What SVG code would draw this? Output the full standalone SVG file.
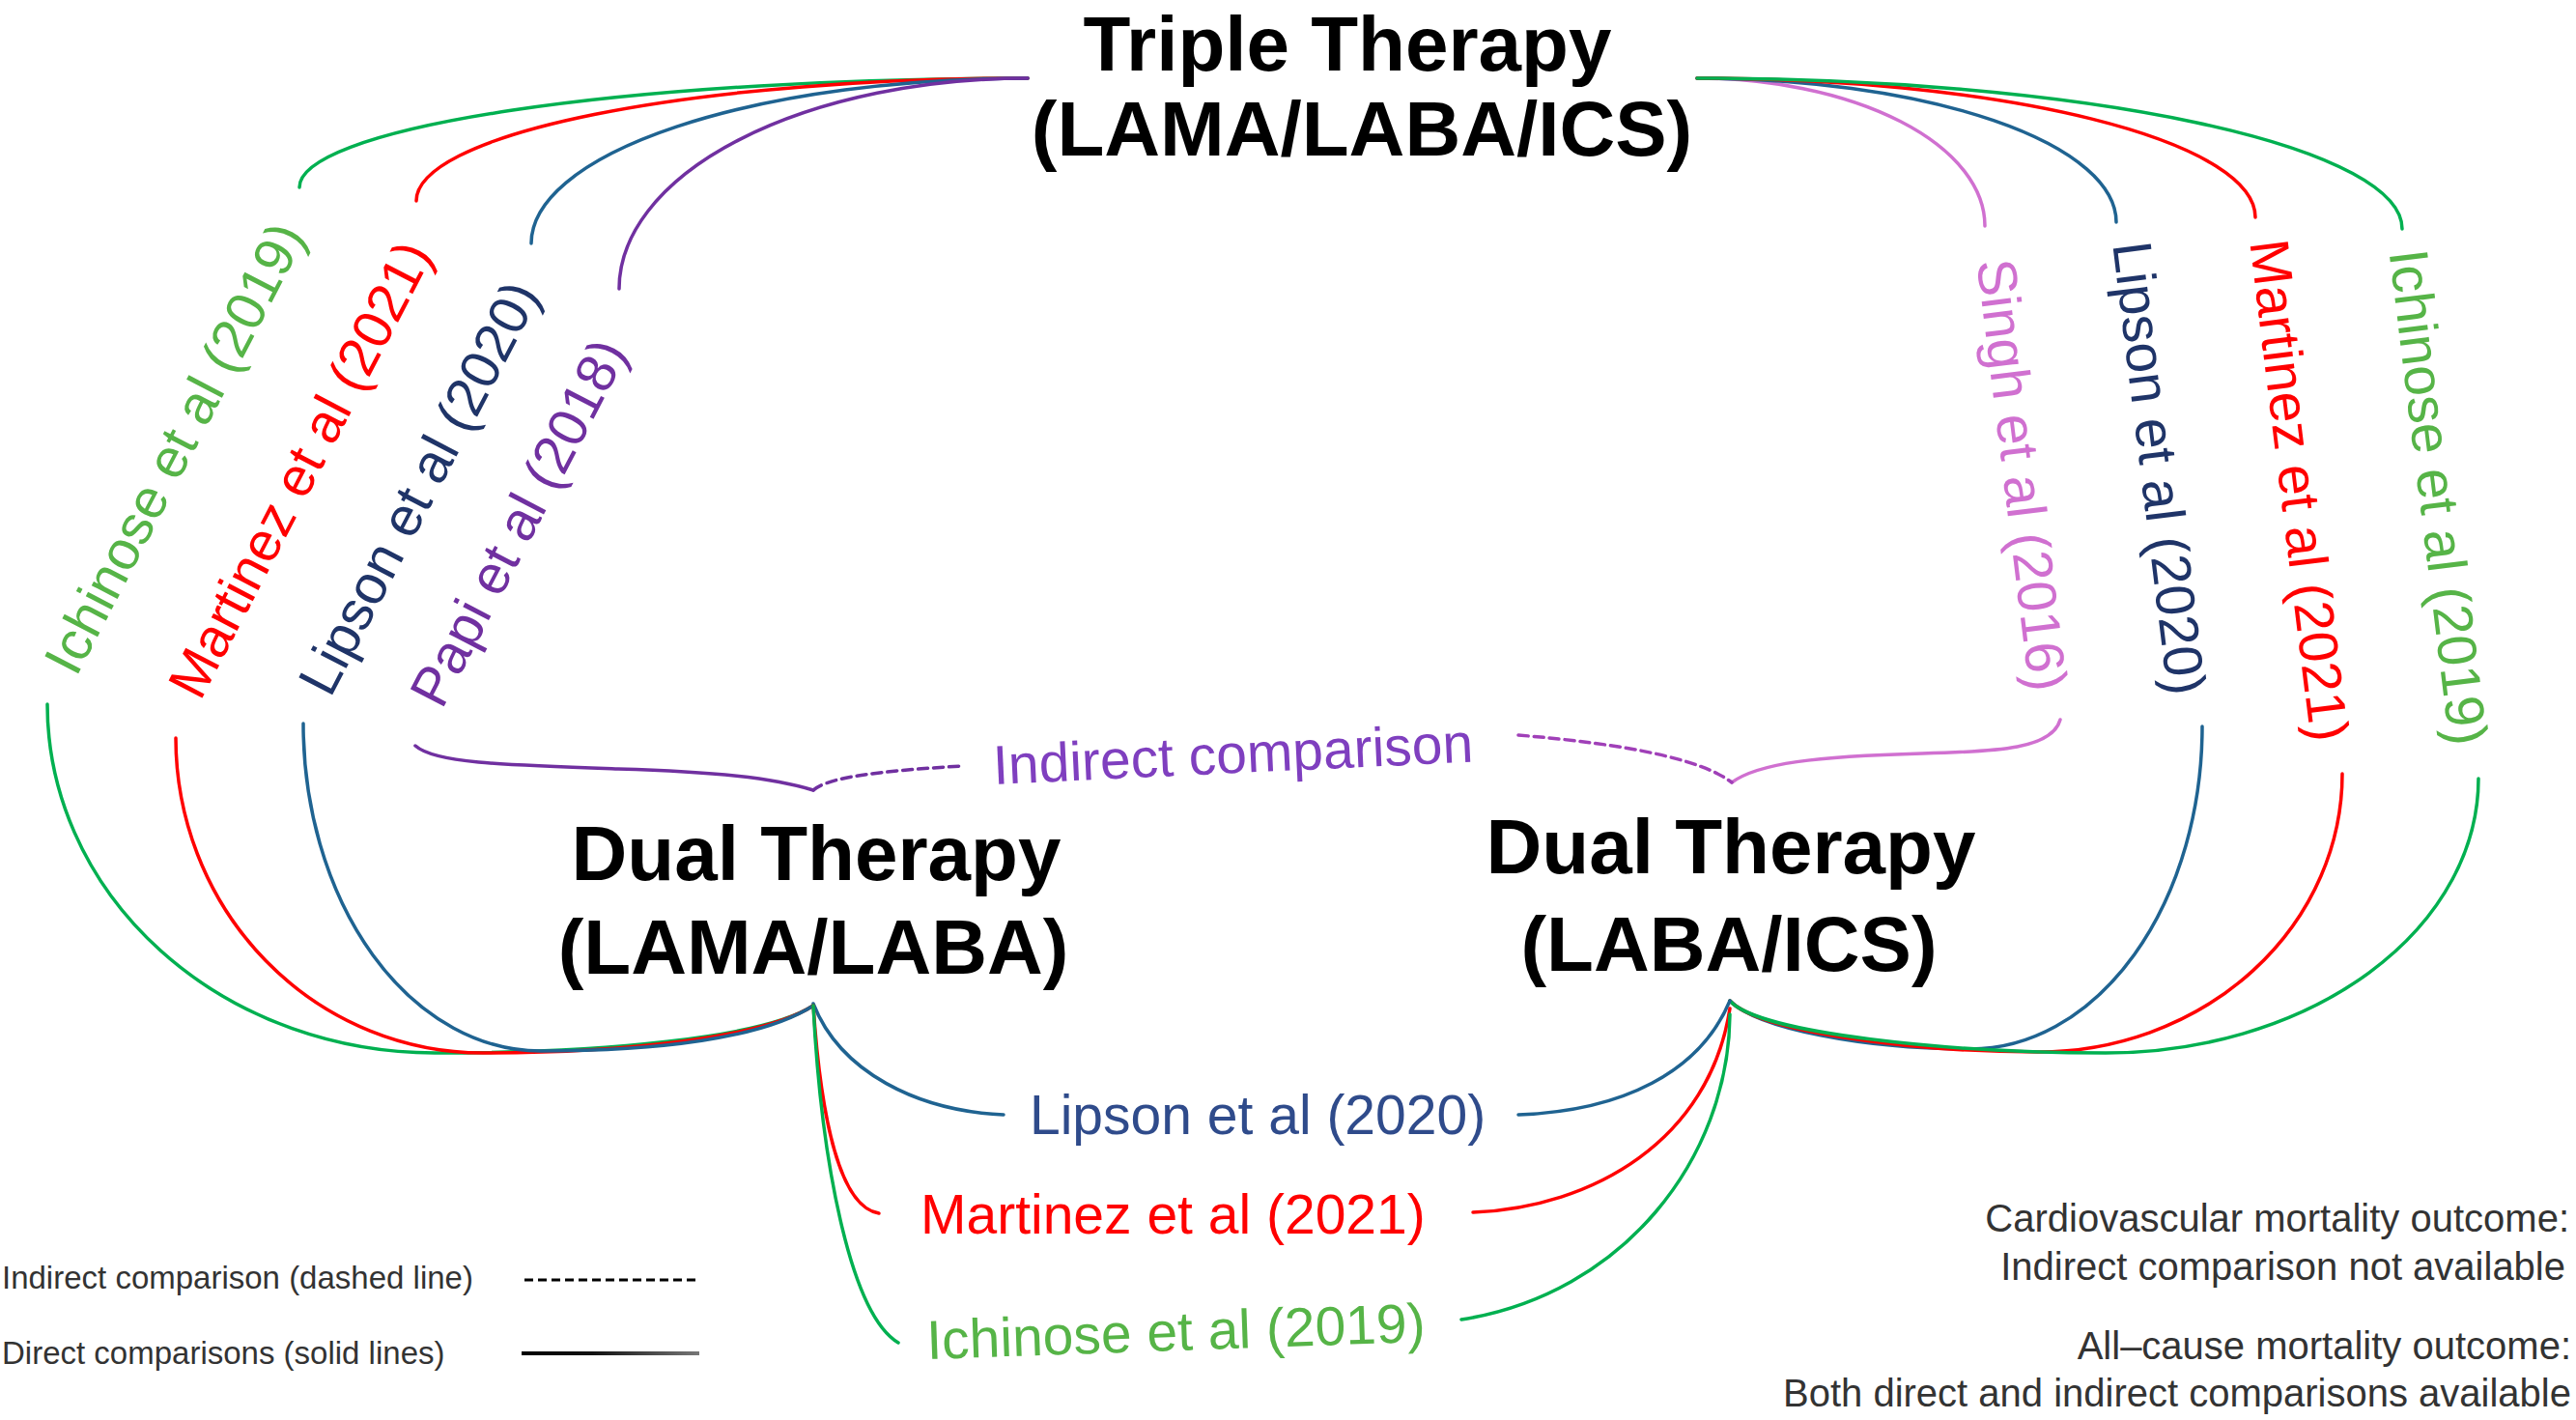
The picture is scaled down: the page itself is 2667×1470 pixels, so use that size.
<svg xmlns="http://www.w3.org/2000/svg" width="2667" height="1470" viewBox="0 0 2667 1470">
<style>
.node{font-family:"Liberation Sans",Arial,sans-serif;font-weight:bold;font-size:80px;fill:#000;text-anchor:middle}
.lab{font-family:"Liberation Sans",Arial,sans-serif;font-size:57px}
.c{fill:none;stroke-width:3.5;stroke-linecap:round}
.g{stroke:#00B050}.r{stroke:#FF0000}.b{stroke:#1F6391}.p{stroke:#7030A0}.k{stroke:#D070D0}
.note{font-family:"Liberation Sans",Arial,sans-serif;fill:#333;}
</style>
<defs>
<linearGradient id="lg" x1="0" x2="1" y1="0" y2="0">
<stop offset="0" stop-color="#000"/><stop offset="0.4" stop-color="#111"/><stop offset="1" stop-color="#777"/>
</linearGradient>
</defs>
<rect width="2667" height="1470" fill="#fff"/>

<g id="triple">
<text class="node" x="1395" y="73">Triple Therapy</text>
<text class="node" x="1410" y="161">(LAMA/LABA/ICS)</text>
</g>
<g id="dual-lama-laba">
<text class="node" x="845" y="911">Dual Therapy</text>
<text class="node" x="842" y="1008">(LAMA/LABA)</text>
</g>
<g id="dual-laba-ics">
<text class="node" x="1792" y="904">Dual Therapy</text>
<text class="node" x="1790" y="1005">(LABA/ICS)</text>
</g>

<g id="connectors">
<!-- top left -->
<path class="c g" d="M1064,81 A754,113 0 0 0 310,194"/>
<path class="c r" d="M1064,81 A633,127 0 0 0 431,208"/>
<path class="c b" d="M1064,81 A514,171 0 0 0 550,252"/>
<path class="c p" d="M1064,81 A423,218 0 0 0 641,299"/>
<!-- top right -->
<path class="c k" d="M1757,81 A298,153 0 0 1 2055,234"/>
<path class="c b" d="M1757,81 A434,149 0 0 1 2191,230"/>
<path class="c r" d="M1757,81 A578,144 0 0 1 2335,225"/>
<path class="c g" d="M1757,81 A730,156 0 0 1 2487,237"/>
<!-- lower left -->
<path class="c g" d="M49,729 A401,361 0 0 0 450,1090 C620,1090 790,1075 842,1041"/>
<path class="c r" d="M182,764 A318,326 0 0 0 500,1090 C640,1090 790,1075 842,1041"/>
<path class="c b" d="M314,749 A246,339 0 0 0 560,1088 C680,1088 790,1075 842,1041"/>
<!-- lower right -->
<path class="c b" d="M2280,752 A240,334 0 0 1 2040,1086 C1930,1086 1820,1065 1791,1036"/>
<path class="c r" d="M2425,801 A315,288 0 0 1 2110,1089 C1980,1089 1820,1068 1791,1036"/>
<path class="c g" d="M2566,806 A386,284 0 0 1 2180,1090 C2020,1090 1820,1070 1791,1036"/>
<!-- indirect comparison braces -->
<path class="c p" d="M430,772 C450,790 520,792 640,796 C740,799 800,805 842,818"/>
<path class="c p" stroke-dasharray="10 6" d="M842,818 C855,808 880,800 995,793"/>
<path class="c k" d="M2133,745 C2125,775 2070,778 1990,780 C1880,783 1820,790 1793,810"/>
<path class="c" stroke="#A040B8" stroke-dasharray="10 6" d="M1572,761 C1680,770 1760,785 1793,810"/>
<!-- bottom direct comparisons -->
<path class="c b" d="M842,1039 C870,1110 950,1150 1039,1154"/>
<path class="c b" d="M1572,1154 C1680,1150 1760,1110 1791,1036"/>
<path class="c r" d="M842,1041 C850,1160 870,1250 910,1256"/>
<path class="c r" d="M1525,1255 C1650,1250 1770,1180 1791,1044"/>
<path class="c g" d="M842,1041 C850,1200 880,1360 930,1390"/>
<path class="c g" d="M1513,1366 C1680,1340 1790,1200 1791,1050"/>
</g>

<g id="labels">
<text class="lab" fill="#56B447" text-anchor="middle" transform="translate(198,473) rotate(-62.5)">Ichinose et al (2019)</text>
<text class="lab" fill="#FF0000" text-anchor="middle" transform="translate(328,495) rotate(-62.5)">Martinez et al (2021)</text>
<text class="lab" fill="#1F3468" text-anchor="middle" transform="translate(451,514) rotate(-62.5)">Lipson et al (2020)</text>
<text class="lab" fill="#7030A0" text-anchor="middle" transform="translate(554,550) rotate(-62.5)">Papi et al (2018)</text>
<text class="lab" fill="#D070D0" text-anchor="middle" transform="translate(2074,494) rotate(83)">Singh et al (2016)</text>
<text class="lab" fill="#1F3468" text-anchor="middle" transform="translate(2216,487) rotate(83)">Lipson et al (2020)</text>
<text class="lab" fill="#FF0000" text-anchor="middle" transform="translate(2361,510) rotate(83)">Martinez et al (2021)</text>
<text class="lab" fill="#56B447" text-anchor="middle" transform="translate(2505,517) rotate(83)">Ichinose et al (2019)</text>
<text class="lab" fill="#7F3FBF" transform="translate(1029,812) rotate(-2.7)">Indirect comparison</text>
<text class="lab" fill="#2F4B8B" x="1066" y="1174">Lipson et al (2020)</text>
<text class="lab" fill="#FF0000" x="953" y="1277">Martinez et al (2021)</text>
<text class="lab" fill="#56B447" transform="translate(960,1407) rotate(-2)">Ichinose et al (2019)</text>
</g>

<g id="legend">
<text class="note" font-size="33" x="2" y="1334">Indirect comparison (dashed line)</text>
<path d="M543,1325 H724" stroke="#000" stroke-width="3" stroke-dasharray="9 5" fill="none"/>
<text class="note" font-size="33" x="2" y="1412">Direct comparisons (solid lines)</text>
<rect x="540" y="1399" width="184" height="4" fill="url(#lg)"/>
</g>

<g id="notes">
<text class="note" font-size="40" text-anchor="end" x="2660" y="1275">Cardiovascular mortality outcome:</text>
<text class="note" font-size="40" text-anchor="end" x="2656" y="1325">Indirect comparison not available</text>
<text class="note" font-size="40" text-anchor="end" x="2662" y="1407">All–cause mortality outcome:</text>
<text class="note" font-size="40" text-anchor="end" x="2662" y="1456">Both direct and indirect comparisons available</text>
</g>
</svg>
